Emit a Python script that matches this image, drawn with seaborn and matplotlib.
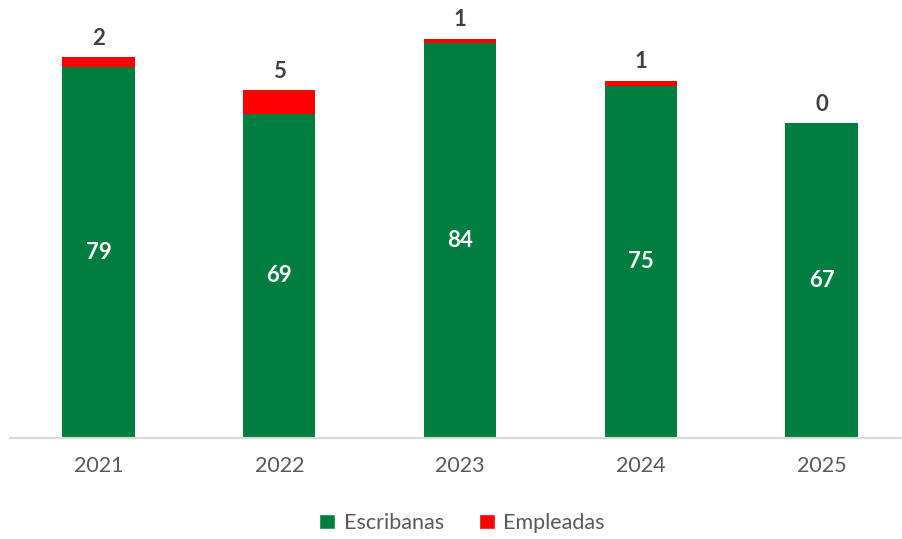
import matplotlib
matplotlib.use("Agg")
import matplotlib.pyplot as plt
import seaborn as sns
import pandas as pd
from matplotlib.patches import Patch

years = ["2021", "2022", "2023", "2024", "2025"]
escribanas = [79, 69, 84, 75, 67]
empleadas = [2, 5, 1, 1, 0]

GREEN = "#007E40"
RED = "#FF0000"

sns.set_theme(style="white")
plt.rcParams["font.family"] = ["Lato", "DejaVu Sans"]

fig = plt.figure(figsize=(9.03, 5.39), dpi=100)
ax = fig.add_axes([10 / 903, (539 - 438) / 539, 893 / 903, 423 / 539])

df = pd.DataFrame({"year": years, "Escribanas": escribanas, "Empleadas": empleadas})
df["total"] = df["Escribanas"] + df["Empleadas"]

width = 0.40
# Stacked bars: total in red first, then the green segment on top of it
sns.barplot(data=df, x="year", y="total", color=RED, width=width, ax=ax,
            saturation=1, edgecolor="none")
sns.barplot(data=df, x="year", y="Escribanas", color=GREEN, width=width, ax=ax,
            saturation=1, edgecolor="none")

ax.set_ylim(0, 90)
ax.set_xlim(-0.49, 4.45)
ax.set_xlabel("")
ax.set_ylabel("")
ax.set_yticks([])
for s in ["top", "right", "left"]:
    ax.spines[s].set_visible(False)
ax.spines["bottom"].set_color("#D9D9D9")
ax.spines["bottom"].set_linewidth(1.5)
ax.tick_params(axis="x", length=0, pad=13, labelsize=15.5, labelcolor="#595959")

for i, (g, r) in enumerate(zip(escribanas, empleadas)):
    ax.text(i, g / 2, f"{g}", ha="center", va="center", color="white",
            fontsize=16, fontweight="bold")
    ax.annotate(f"{r}", xy=(i, g + r), xytext=(0, 6), textcoords="offset points",
                ha="center", va="bottom", color="#404040", fontsize=16,
                fontweight="bold")

handles = [Patch(facecolor=GREEN, label="Escribanas"),
           Patch(facecolor=RED, label="Empleadas")]
leg = fig.legend(handles=handles, loc="center", bbox_to_anchor=(462 / 903, 1 - 523 / 539),
                 ncol=2, frameon=False, fontsize=15.5, handlelength=0.75, handleheight=0.75,
                 handletextpad=0.4, columnspacing=1.6)
for t in leg.get_texts():
    t.set_color("#595959")

fig.savefig("out.png", dpi=100)
